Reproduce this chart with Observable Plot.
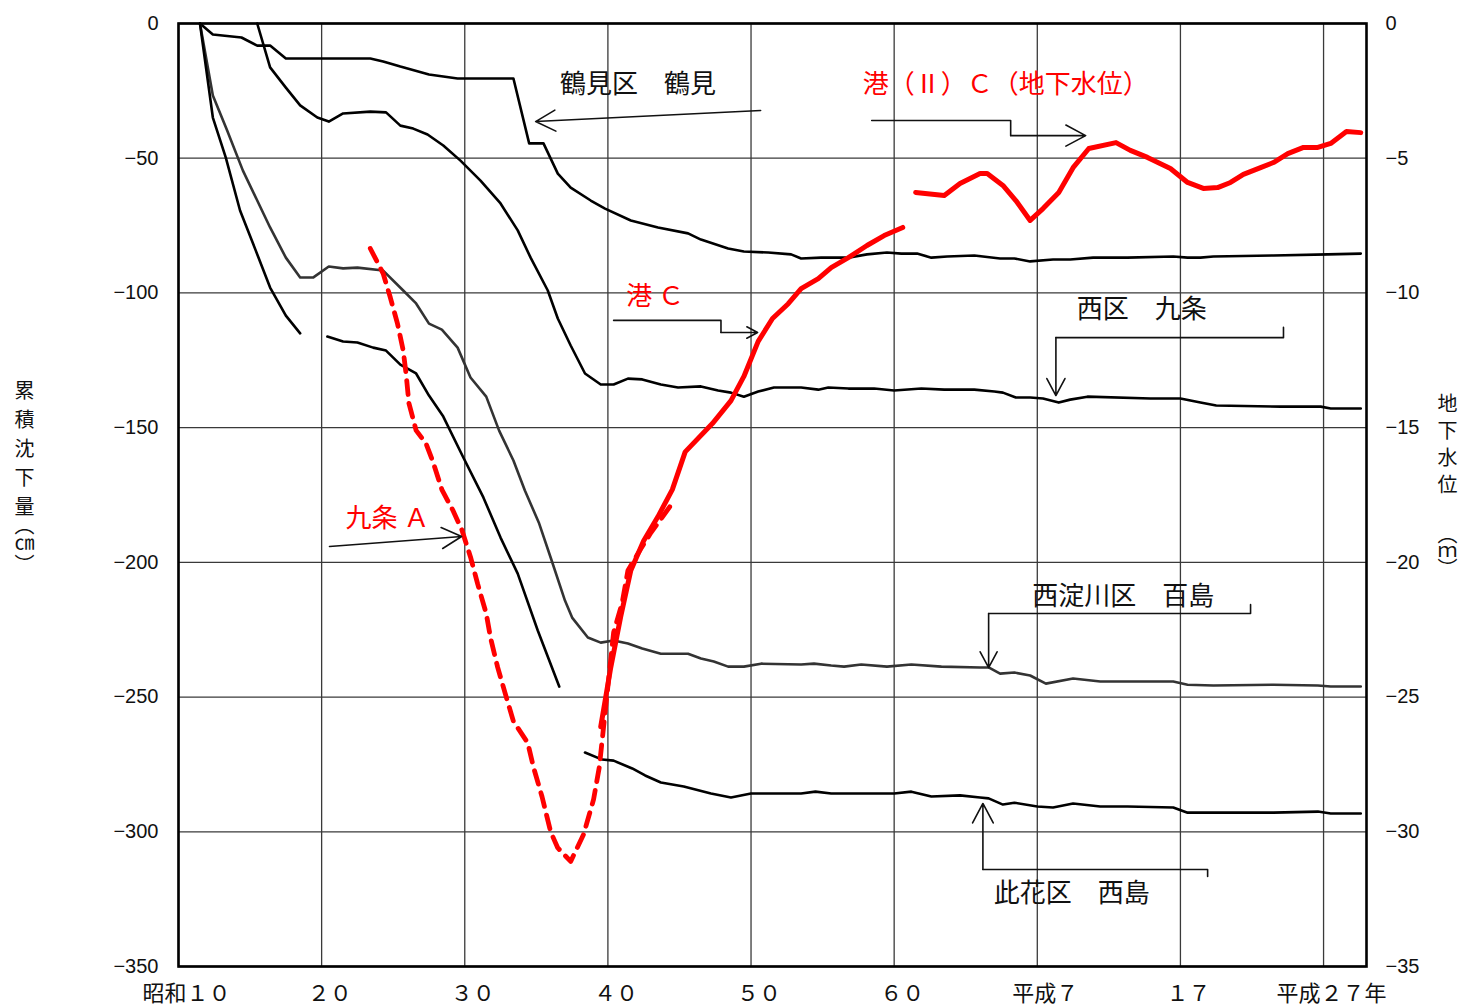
<!DOCTYPE html>
<html><head><meta charset="utf-8">
<script src="https://cdn.jsdelivr.net/npm/d3@7"></script>
<script src="https://cdn.jsdelivr.net/npm/@observablehq/plot@0.6"></script>
<style>html,body{margin:0;padding:0;background:#fff;overflow:hidden}</style>
</head><body><div id="chart"></div>
<script>
// ---- settlement series (cm) : [year, cumulative settlement] ----
const tsurumi = [[1936.5,0],[1937.4,-4.1],[1939.4,-5.2],[1940.5,-8.2],[1941.4,-8.2],[1942.5,-13],[1948.4,-13],[1949.3,-14.1],[1950.5,-16],[1952.5,-18.9],[1954.5,-20.4],[1958.4,-20.4],[1959.5,-44.5],[1960.5,-44.5],[1961.5,-55.7],[1962.4,-60.9],[1963.8,-65.7],[1964.8,-68.7],[1966.6,-73.1],[1968.5,-75.7],[1970.6,-77.9],[1971.5,-80.2],[1973.4,-83.5],[1974.5,-84.6],[1976.2,-85],[1977.8,-85.7],[1978.5,-87.2],[1979.9,-86.9],[1981.8,-86.9],[1983.1,-85.7],[1984.5,-85],[1985.5,-85.4],[1986.6,-85.4],[1987.6,-86.9],[1988.7,-86.5],[1990.6,-86.1],[1992.4,-87.2],[1993.4,-87.2],[1994.5,-88.3],[1996.1,-87.6],[1997.3,-87.6],[1998.9,-86.9],[2001.3,-86.9],[2004.5,-86.5],[2005.5,-86.9],[2006.4,-86.9],[2007.3,-86.5],[2011.5,-86.1],[2015.3,-85.7],[2017.6,-85.4]];
const kujo = [[1940.5,0],[1941.4,-16.3],[1942.5,-23.8],[1943.5,-30.4],[1944.7,-34.9],[1945.5,-36.4],[1946.5,-33.4],[1948.4,-32.7],[1949.5,-33],[1950.5,-37.9],[1951.4,-39],[1952.4,-41.2],[1953.5,-45.3],[1954.7,-50.9],[1956.1,-58.3],[1957.5,-66.8],[1958.7,-76.8],[1959.6,-86.9],[1960.8,-99.1],[1961.5,-109.5],[1962.4,-119.5],[1963.4,-129.9],[1964.5,-134],[1965.4,-134],[1966.4,-131.8],[1967.4,-132.1],[1968.7,-134],[1969.9,-135.1],[1971.5,-134.7],[1972.7,-136.2],[1973.6,-137],[1974.5,-138.5],[1975.5,-136.6],[1976.6,-135.1],[1978.5,-135.1],[1979.7,-135.9],[1980.4,-135.1],[1981.8,-135.5],[1983.6,-135.5],[1985,-136.2],[1986.9,-135.5],[1988.5,-135.9],[1990.6,-135.9],[1992,-136.6],[1992.6,-137],[1993.5,-138.8],[1994.5,-138.8],[1995.4,-139.2],[1996.5,-140.7],[1997.3,-139.6],[1998.5,-138.5],[2002.9,-139.2],[2005,-139.2],[2006.4,-140.7],[2007.5,-141.8],[2012,-142.2],[2014.8,-142.2],[2015.5,-142.9],[2017.6,-142.9]];
const momoshima = [[1936.5,0],[1937.4,-26.7],[1938.4,-39.7],[1939.5,-54.6],[1940.5,-65.7],[1941.4,-75.7],[1942.5,-86.9],[1943.5,-94.3],[1944.4,-94.3],[1945.5,-90.2],[1946.5,-90.9],[1947.5,-90.6],[1949.3,-91.7],[1950.7,-99.1],[1951.6,-103.9],[1952.5,-111.4],[1953.4,-113.6],[1954.5,-120.3],[1955.4,-131.4],[1956.5,-138.5],[1957.4,-151.1],[1958.4,-162.2],[1959.2,-173.3],[1960.2,-185.6],[1961,-198.2],[1962,-214.2],[1962.5,-220.5],[1963.6,-227.9],[1964.5,-229.8],[1965.4,-229],[1966.4,-230.1],[1967.4,-232],[1968.7,-233.9],[1970.6,-233.9],[1971.5,-235.7],[1972.4,-236.8],[1973.4,-238.7],[1974.5,-238.7],[1975.7,-237.6],[1978.5,-237.9],[1979.4,-237.6],[1980.6,-238.3],[1981.5,-238.7],[1982.7,-237.9],[1984.5,-238.7],[1986.2,-237.9],[1988.3,-238.7],[1991,-239],[1991.6,-239],[1992.4,-241.3],[1993.4,-240.9],[1994.5,-242],[1995.6,-245],[1997.5,-243.1],[1999.4,-244.2],[2001.3,-244.2],[2004.5,-244.2],[2005.5,-245.4],[2007.3,-245.7],[2011.5,-245.4],[2014.6,-245.7],[2015.5,-246.1],[2017.6,-246.1]];
const nishijima = [[1936.5,0],[1937.4,-34.9],[1938.3,-49.7],[1939.3,-69.4],[1940.4,-84.3],[1941.4,-98],[1942.5,-108.4],[1943.5,-115],[1944.5,null],[1945.4,-116.2],[1946.5,-118],[1947.5,-118.4],[1948.6,-120.3],[1949.5,-121.4],[1950.5,-126.6],[1951.6,-129.9],[1952.5,-138.1],[1953.5,-145.9],[1954.9,-161.1],[1956.3,-175.9],[1957.5,-190.8],[1958.7,-204.2],[1960.1,-225.3],[1961.6,-246.1],[1962.5,null],[1963.4,-270.6],[1964.6,-273.2],[1965.4,-273.6],[1966.7,-276.5],[1967.6,-279.1],[1968.7,-281.7],[1970.3,-283.2],[1972.2,-285.8],[1973.6,-287.3],[1975,-285.8],[1978.5,-285.8],[1979.5,-285.1],[1980.6,-285.8],[1982.7,-285.8],[1985,-285.8],[1986.2,-285.1],[1987.6,-286.9],[1989.6,-286.5],[1991,-287.3],[1991.6,-287.6],[1992.6,-289.9],[1993.4,-289.2],[1995,-290.6],[1996.1,-291],[1997.5,-289.5],[1999.4,-290.6],[2001.3,-290.6],[2004.5,-291],[2005.5,-292.9],[2007.3,-292.9],[2011.5,-292.9],[2014.6,-292.5],[2015.5,-293.2],[2017.6,-293.2]];

// ---- groundwater level series (m) : [year, level] ----
const kujoA = [[1948.4,-8.35],[1949.3,-9.28],[1949.8,-10.17],[1950.3,-11.14],[1950.7,-12.14],[1950.9,-13],[1951.1,-14.1],[1951.6,-15.1],[1952.3,-15.6],[1952.8,-16.3],[1953.4,-17.3],[1954.2,-18.1],[1954.8,-18.8],[1955.4,-19.8],[1955.9,-20.8],[1956.5,-21.9],[1956.8,-22.8],[1957.3,-23.9],[1957.9,-25],[1958.4,-25.9],[1959.4,-26.7],[1959.8,-27.6],[1960.4,-28.7],[1961,-30],[1961.5,-30.6],[1962.4,-31.1],[1963.3,-30.1],[1964,-28.8],[1964.4,-27.6],[1964.7,-26.1],[1965.4,-22.6],[1966,-21.5],[1966.4,-20.3],[1967.3,-19.5],[1968,-18.9],[1968.7,-18.4],[1969.5,-17.8]];
const minatoC = [[1964.5,-26.1],[1965.2,-23.9],[1965.9,-22],[1966.6,-20.3],[1967.5,-19.2],[1968.5,-18.3],[1969.5,-17.3],[1970.4,-15.9],[1972.3,-14.85],[1973.6,-14],[1974.5,-13.1],[1975.5,-11.8],[1976.5,-10.95],[1977.6,-10.4],[1978.5,-9.84],[1979.7,-9.47],[1980.6,-9.06],[1981.8,-8.69],[1983.1,-8.24],[1984.3,-7.87],[1985.6,-7.57]];
const minato2C = [[1986.5,-6.27],[1988.5,-6.38],[1989.6,-5.94],[1991,-5.57],[1991.5,-5.57],[1992.6,-6.01],[1993.5,-6.57],[1994.5,-7.31],[1995.4,-6.87],[1996.5,-6.27],[1997.5,-5.35],[1998.6,-4.64],[2000.5,-4.42],[2001.5,-4.71],[2002.7,-4.97],[2004.3,-5.38],[2005.5,-5.9],[2006.6,-6.12],[2007.6,-6.09],[2008.5,-5.9],[2009.4,-5.6],[2010.6,-5.35],[2011.5,-5.16],[2012.5,-4.83],[2013.6,-4.6],[2014.6,-4.6],[2015.5,-4.45],[2016.6,-4.01],[2017.6,-4.05]];

// ---- axes ----
const xTickYears = [1935,1945,1955,1965,1975,1985,1995,2005,2015];
const xTickLabels = ["昭和１０","２０","３０","４０","５０","６０","平成７","１７","平成２７年"];
const yTicksCm = [0,-50,-100,-150,-200,-250,-300,-350];
const yTitleLeft = "累積沈下量（㎝）";
const yTitleRight = "地下水位　（ｍ）";

// ---- annotations ----
const labelTexts = ["鶴見区　鶴見","港（Ⅱ）Ｃ（地下水位）","港 Ｃ","西区　九条","九条 Ａ","西淀川区　百島","此花区　西島"];
const labelYears = [1967.1,1992.8,1968.3,2002.3,1949.6,2001.0,1997.4];
const labelCm = [-22.6,-22.6,-101.3,-106.2,-183.7,-212.7,-322.9];
const labelColors = ["#111","#ff0000","#ff0000","#111","#ff0000","#111","#111"];
const pointers = [
  [[1975.67,-32.3],[1959.95,-36.4]],
  [[1983.43,-36.0],[1993.14,-36.0],[1993.14,-41.6],[1998.38,-41.6]],
  [[1965.4,-110.2],[1972.9,-110.2],[1972.9,-114.7],[1975.46,-114.7]],
  [[2012.2,-112.8],[2012.2,-116.6],[1996.3,-116.6],[1996.3,-138.1]],
  [[1945.55,-194.1],[1954.78,-190.4]],
  [[2009.9,-215.7],[2009.9,-219.0],[1991.6,-219.0],[1991.6,-239.1]],
  [[2006.9,-316.6],[2006.9,-314.0],[1991.2,-314.0],[1991.2,-289.5]]
];

const minus = v => v === 0 ? "0" : (v < 0 ? "\u2212" : "") + Math.abs(v);
const numFont = "'Liberation Sans Narrow', 'Liberation Sans', Arial, sans-serif";
const cjkFont = "'Noto Sans CJK JP', sans-serif";
const mToCm = d => d[1] == null ? NaN : d[1] * 10;

const labels = labelTexts.map((t, i) => ({t, x: labelYears[i], y: labelCm[i], c: labelColors[i]}));
const pointerMarks = pointers.flatMap(p => {
  const body = p.slice(0, -1);
  const a = p[p.length - 2], b = p[p.length - 1];
  const marks = [];
  if (body.length > 1) marks.push(Plot.line(body, {x: d => d[0], y: d => d[1], stroke: "#111", strokeWidth: 1.6}));
  marks.push(Plot.arrow([[a, b]], {x1: d => d[0][0], y1: d => d[0][1], x2: d => d[1][0], y2: d => d[1][1], stroke: "#111", strokeWidth: 1.6, headLength: 21, headAngle: 56}));
  return marks;
});

const chart = Plot.plot({
  width: 1463, height: 1007,
  marginLeft: 178, marginRight: 97, marginTop: 23, marginBottom: 41,
  style: {fontFamily: cjkFont, background: "white"},
  x: {domain: [1935, 2018], axis: null},
  y: {domain: [-350, 0], axis: null},
  marks: [
    Plot.gridX(xTickYears, {stroke: "#3a3a3a", strokeOpacity: 1, strokeWidth: 1.3}),
    Plot.gridY(yTicksCm, {stroke: "#3a3a3a", strokeOpacity: 1, strokeWidth: 1.3}),
    Plot.axisX(xTickYears, {label: null, tickSize: 0, tickPadding: 19, tickFormat: d => xTickLabels[xTickYears.indexOf(d)], fontSize: 22, dx: 8, fill: "#111"}),
    Plot.axisY(yTicksCm, {label: null, anchor: "left", tickSize: 0, tickPadding: 20, tickFormat: minus, fontSize: 20, fontFamily: numFont, fill: "#111"}),
    Plot.axisY(yTicksCm, {label: null, anchor: "right", tickSize: 0, tickPadding: 19, tickFormat: d => minus(d / 10), fontSize: 20, fontFamily: numFont, fill: "#111"}),
    Plot.text([yTitleLeft], {frameAnchor: "left", dx: -154, dy: -29, text: d => d, fontSize: 20, textAnchor: "middle", fill: "#111"}),
    Plot.text([yTitleRight], {frameAnchor: "right", dx: 81, dy: -20, text: d => d, fontSize: 20, textAnchor: "middle", fill: "#111"}),
    Plot.line(tsurumi, {x: d => d[0], y: d => d[1], stroke: "#000", strokeWidth: 2.6}),
    Plot.line(kujo, {x: d => d[0], y: d => d[1], stroke: "#000", strokeWidth: 2.6}),
    Plot.line(momoshima, {x: d => d[0], y: d => d[1], stroke: "#333", strokeWidth: 2.6}),
    Plot.line(nishijima, {x: d => d[0], y: d => d[1], stroke: "#000", strokeWidth: 2.6}),
    Plot.line(kujoA, {x: d => d[0], y: mToCm, stroke: "#ff0000", strokeWidth: 4.8, strokeDasharray: "14,9"}),
    Plot.line(minatoC, {x: d => d[0], y: mToCm, stroke: "#ff0000", strokeWidth: 5}),
    Plot.line(minato2C, {x: d => d[0], y: mToCm, stroke: "#ff0000", strokeWidth: 5}),
    ...pointerMarks,
    Plot.text(labels, {x: "x", y: "y", text: "t", fill: "c", fontSize: 26}),
    Plot.frame({stroke: "#000", strokeWidth: 2.6})
  ]
});
document.getElementById("chart").appendChild(chart);

// stack the two axis titles vertically (upright CJK, rotated brackets)
function stackVertical(str, parts) {
  const t = d3.select(chart).selectAll("text").filter(function () { return this.textContent === str; });
  t.attr("writing-mode", "vertical-rl").style("writing-mode", "vertical-rl").attr("dy", null).text(null);
  parts.forEach(([s, spacing, proportional]) => {
    const ts = t.append("tspan").text(s).style("letter-spacing", spacing + "px");
    if (proportional) ts.style("font-feature-settings", '"vpal" 1');
  });
}
stackVertical(yTitleLeft, [[yTitleLeft.slice(0, 5), 9, false], [yTitleLeft.slice(5), 0, true]]);
stackVertical(yTitleRight, [[yTitleRight.slice(0, 4), 7, false], [yTitleRight.slice(4, 5), 12, false], [yTitleRight.slice(5), 0, true]]);
</script>
</body></html>
